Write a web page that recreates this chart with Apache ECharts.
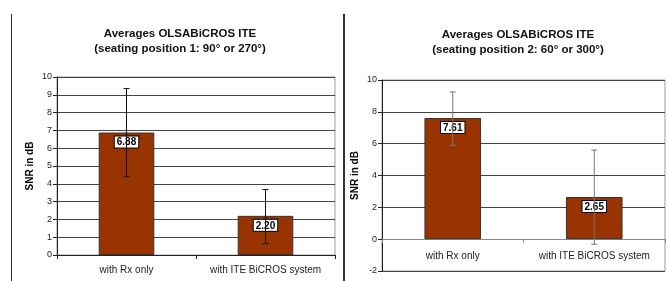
<!DOCTYPE html>
<html>
<head>
<meta charset="utf-8">
<script src="https://cdn.jsdelivr.net/npm/echarts@6/dist/echarts.min.js"></script>
<style>
  html, body { margin: 0; padding: 0; background: #fff; }
  #chart { width: 668px; height: 281px; }
</style>
</head>
<body>
<div id="chart"></div>
<script>
// categories (same for both panels)
const categories = ['with Rx only', 'with ITE BiCROS system'];

// seating position 1: 90° or 270°
const pos1Means = [6.88, 2.20];
const pos1Upper = [9.35, 3.68];
const pos1Lower = [4.40, 0.63];

// seating position 2: 60° or 300°
const pos2Means = [7.61, 2.65];
const pos2Upper = [9.25, 5.60];
const pos2Lower = [5.90, -0.32];

const barColor = '#993300';
const font = 'Liberation Sans, Arial, sans-serif';

function errorRenderer(color) {
  return function (params, api) {
    const x = api.value(0);
    const top = api.coord([x, api.value(1)]);
    const bot = api.coord([x, api.value(2)]);
    const c = 3;
    const st = { stroke: color, lineWidth: 1 };
    return {
      type: 'group',
      children: [
        { type: 'line', shape: { x1: top[0], y1: top[1], x2: bot[0], y2: bot[1] }, style: st },
        { type: 'line', shape: { x1: top[0] - c, y1: top[1], x2: top[0] + c, y2: top[1] }, style: st },
        { type: 'line', shape: { x1: bot[0] - c, y1: bot[1], x2: bot[0] + c, y2: bot[1] }, style: st }
      ]
    };
  };
}

function errData(upper, lower) {
  return upper.map((u, i) => [i, u, lower[i]]);
}

const labelStyle = {
  show: true,
  position: 'insideTop',
  distance: 4,
  formatter: p => p.value.toFixed(2),
  color: '#000',
  fontFamily: font,
  fontSize: 10,
  fontWeight: 'bold',
  backgroundColor: '#fff',
  borderColor: '#000',
  borderWidth: 1,
  padding: [1, 2, 0, 2]
};

function yAxisCfg(idx, min, max, interval) {
  return {
    gridIndex: idx,
    type: 'value',
    min: min, max: max, interval: interval,
    name: 'SNR in dB',
    nameLocation: 'middle',
    nameGap: 22,
    nameTextStyle: { fontFamily: font, fontSize: 10, fontWeight: 'bold', color: '#000' },
    axisLine: { show: true, lineStyle: { color: '#222' } },
    axisTick: { show: true, length: 4, lineStyle: { color: '#222' } },
    axisLabel: { fontFamily: font, fontSize: 9, color: '#222', margin: 5 },
    splitLine: { show: true, lineStyle: { color: '#444', width: 1 } }
  };
}

function xAxisCfg(idx, lineColor, offset, margin) {
  return {
    gridIndex: idx,
    type: 'category',
    data: categories,
    offset: offset,
    axisLine: { show: true, onZero: false, lineStyle: { color: lineColor } },
    axisTick: { show: true, length: 4, lineStyle: { color: lineColor } },
    axisLabel: { interval: 0, fontFamily: font, fontSize: 10, color: '#222', margin: margin }
  };
}

const chart = echarts.init(document.getElementById('chart'));
chart.setOption({
  animation: false,
  backgroundColor: '#fff',
  title: [
    {
      text: 'Averages OLSABiCROS ITE\n(seating position 1: 90° or 270°)',
      left: 175, top: 21, textAlign: 'center',
      textStyle: { fontFamily: font, fontSize: 11.5, fontWeight: 'bold', color: '#111', lineHeight: 15 }
    },
    {
      text: 'Averages OLSABiCROS ITE\n(seating position 2: 60° or 300°)',
      left: 513, top: 22, textAlign: 'center',
      textStyle: { fontFamily: font, fontSize: 11.5, fontWeight: 'bold', color: '#111', lineHeight: 15 }
    }
  ],
  graphic: [
    { type: 'line', shape: { x1: 11.5, y1: 14, x2: 11.5, y2: 281 }, style: { stroke: '#333', lineWidth: 1 } },
    { type: 'line', shape: { x1: 344, y1: 14, x2: 344, y2: 281 }, style: { stroke: '#333', lineWidth: 2 } }
  ],
  grid: [
    { left: 57, top: 77, width: 278, height: 178, show: true, borderColor: '#999', borderWidth: 1 },
    { left: 382, top: 80, width: 283, height: 191, show: true, borderColor: '#999', borderWidth: 1 }
  ],
  xAxis: [xAxisCfg(0, '#222', 0, 10), xAxisCfg(1, '#888', -32, 12)],
  yAxis: [yAxisCfg(0, 0, 10, 1), yAxisCfg(1, -2, 10, 2)],
  series: [
    {
      type: 'bar', xAxisIndex: 0, yAxisIndex: 0, data: pos1Means, barWidth: '40%',
      itemStyle: { color: barColor, borderColor: '#333', borderWidth: 1 },
      label: labelStyle, z: 2
    },
    {
      type: 'custom', xAxisIndex: 0, yAxisIndex: 0,
      renderItem: errorRenderer('#111'),
      encode: { x: 0, y: [1, 2] },
      data: errData(pos1Upper, pos1Lower), z: 3
    },
    {
      type: 'bar', xAxisIndex: 1, yAxisIndex: 1, data: pos2Means, barWidth: '40%',
      itemStyle: { color: barColor, borderColor: '#333', borderWidth: 1 },
      label: labelStyle, z: 2
    },
    {
      type: 'custom', xAxisIndex: 1, yAxisIndex: 1,
      renderItem: errorRenderer('#777'),
      encode: { x: 0, y: [1, 2] },
      data: errData(pos2Upper, pos2Lower), z: 3
    }
  ]
});
</script>
</body>
</html>
